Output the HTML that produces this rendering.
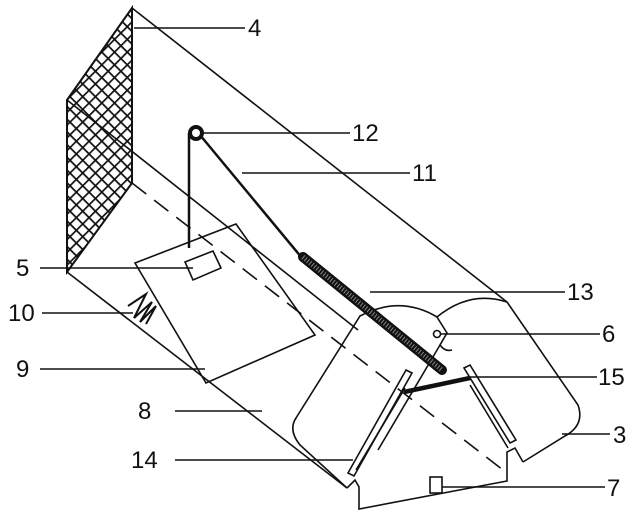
<!DOCTYPE html>
<html><head><style>
html,body{margin:0;padding:0;background:#fff;}
svg{display:block;}
text{font-family:"Liberation Sans",sans-serif;font-size:24px;fill:#111;}
</style></head><body>
<svg width="642" height="518" viewBox="0 0 642 518">
<defs>
<pattern id="mesh" width="9" height="9" patternUnits="userSpaceOnUse" patternTransform="rotate(45)">
<path d="M0 0H9M0 0V9" stroke="#111" stroke-width="3.4" fill="none"/>
</pattern>
</defs>
<g stroke="#111" stroke-width="1.6" fill="none">
<polygon points="132,8 67,100 67,272 132,183" fill="url(#mesh)" stroke="#111" stroke-width="2"/>
<line x1="132" y1="8" x2="507" y2="302"/>
<line x1="67" y1="100" x2="358" y2="330"/>
<line x1="67" y1="272" x2="347" y2="488"/>
<line x1="132" y1="183" x2="503" y2="470" stroke-dasharray="18,10"/>
<polyline points="347,488 355,480 359,487 359,509 507,481 507,452 515,448 523,462"/>
<path d="M523,462 L565,436 Q585,425 578,405 L507,302 Q470,290 437,317 L447,333 L440,345 Q445,352 452,350"/>
<path d="M347,488 L300,445 Q288,430 296,418 L360,316 Q400,295 437,317"/>
<polygon points="406,370 412,373 354,476 348,473"/>
<polygon points="464,368 470,365 516,440 510,443"/>
<line x1="405" y1="388" x2="356" y2="470"/>
<line x1="470" y1="385" x2="508" y2="448"/>
<line x1="440" y1="345" x2="378" y2="450"/>
<circle cx="437" cy="334" r="3.5"/>
<polygon points="135,263 236,224 315,335 206,383"/>
<polygon points="185,262 213,251 221,268 193,280"/>
<polyline points="128,306 146,294 134,318 152,302 140,322 156,306 146,324" stroke-width="2"/>
<line x1="189" y1="133" x2="189" y2="248" stroke-width="2.5"/>
<line x1="200" y1="135" x2="302" y2="258" stroke-width="2.5"/>
<circle cx="196" cy="133" r="6" stroke-width="4"/>
<line x1="303" y1="257" x2="442" y2="370" stroke-width="10" stroke-linecap="round"/>
<line x1="303" y1="257" x2="442" y2="370" stroke="#888" stroke-width="5" stroke-dasharray="1,2"/>
<line x1="404" y1="392" x2="470" y2="378" stroke-width="4.5"/>
<rect x="430" y="477" width="12" height="16"/>
<g stroke-width="1.4">
<line x1="134" y1="28" x2="245" y2="28"/>
<line x1="203" y1="133" x2="350" y2="133"/>
<line x1="242" y1="173" x2="410" y2="173"/>
<line x1="370" y1="292" x2="565" y2="292"/>
<line x1="440" y1="334" x2="600" y2="334"/>
<line x1="470" y1="377" x2="597" y2="377"/>
<line x1="562" y1="434" x2="610" y2="434"/>
<line x1="442" y1="487" x2="605" y2="487"/>
<line x1="40" y1="268" x2="193" y2="268"/>
<line x1="42" y1="313" x2="133" y2="313"/>
<line x1="40" y1="369" x2="205" y2="369"/>
<line x1="175" y1="411" x2="262" y2="411"/>
<line x1="175" y1="460" x2="353" y2="460"/>
</g>
</g>
<text x="248" y="36">4</text>
<text x="352" y="141">12</text>
<text x="412" y="181">11</text>
<text x="567" y="300">13</text>
<text x="602" y="342">6</text>
<text x="598" y="385">15</text>
<text x="613" y="443">3</text>
<text x="607" y="496">7</text>
<text x="16" y="276">5</text>
<text x="8" y="321">10</text>
<text x="16" y="377">9</text>
<text x="138" y="419">8</text>
<text x="131" y="468">14</text>
</svg>
</body></html>
